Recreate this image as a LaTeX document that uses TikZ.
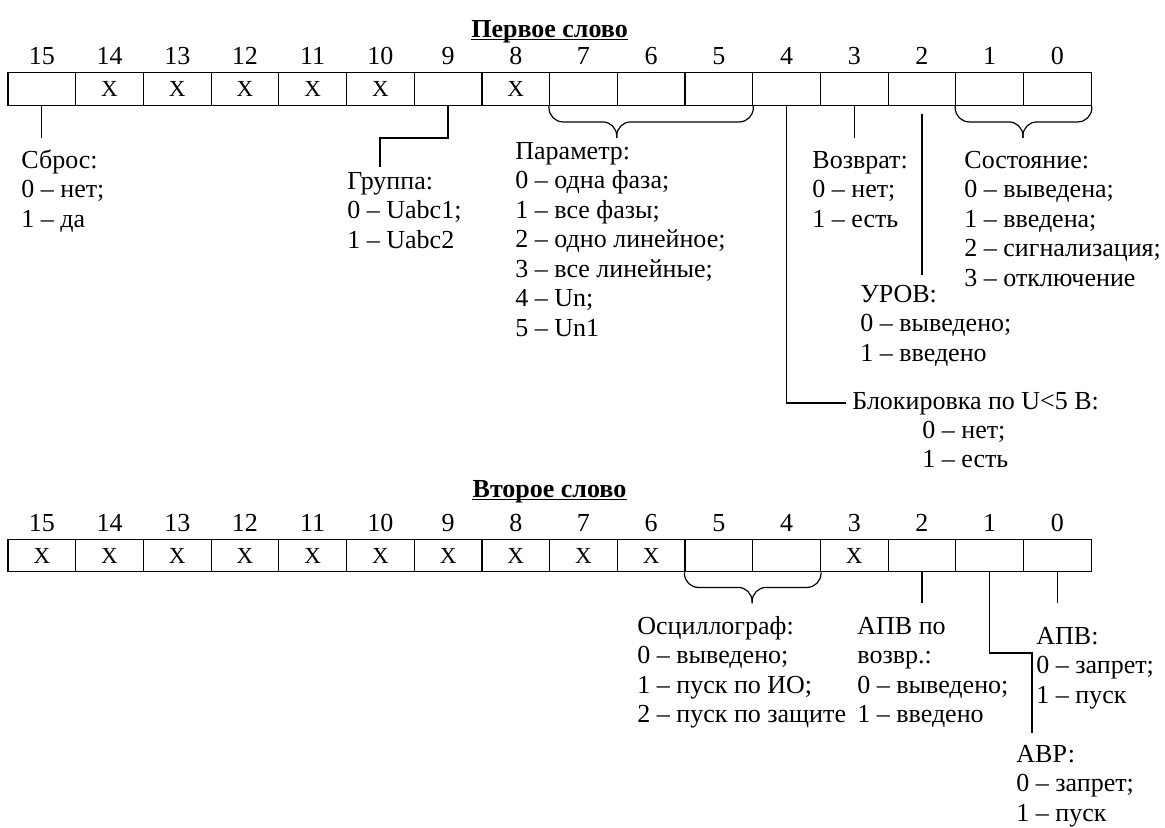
\documentclass[tikz,border=0pt]{standalone}
\usepackage{fontspec}
\setmainfont{Liberation Serif}
\usepackage{tikz}
\usetikzlibrary{positioning}

\tikzset{
  cell/.style={draw, line width=0.6pt, minimum width=33.85pt, minimum height=16.3pt, inner sep=0pt},
  bitno/.style={inner sep=0pt},
  xmark/.style={inner sep=0pt, font=\fontsize{11.5}{13}\selectfont},
  lbl/.style={anchor=base west, align=left, inner sep=0pt},
  wordtitle/.style={anchor=base, inner sep=0pt, font=\fontsize{13}{14.75}\selectfont\bfseries},
  conn/.style={line width=0.6pt},
  bracearm/.style={line width=0.6pt, rounded corners=7pt},
}

\begin{document}
\begin{tikzpicture}[x=0.5pt, y=-0.5pt, font=\fontsize{13}{14.75}\selectfont]
  \useasboundingbox (0,0) rectangle (1165,827);

  % Register cells with bit numbers
  \foreach \i in {0,...,15} {
    \node[cell] (t\i) at ({8+(15.5-\i)*67.7}, 89) {};
    \node[bitno, above=3.85pt of t\i, anchor=base] (tn\i) {\i};
    \node[cell] (b\i) at ({8+(15.5-\i)*67.7}, 555.5) {};
    \node[bitno, above=3.7pt of b\i, anchor=base] (bn\i) {\i};
  }

  % Unused bits
  \foreach \i in {14,13,12,11,10,8} \node[xmark] (tx\i) at (t\i) {X};
  \foreach \i in {15,14,13,12,11,10,9,8,7,6,3} \node[xmark] (bx\i) at (b\i) {X};

  % Word titles, underlined
  \node[wordtitle] (word1) at (549.5,37) {Первое слово};
  \node[wordtitle] (word2) at (549.5,497) {Второе слово};
  \draw[line width=0.7pt] ([yshift=-1.2pt]word1.base west) -- ([yshift=-1.2pt]word1.base east);
  \draw[line width=0.7pt] ([yshift=-1.2pt]word2.base west) -- ([yshift=-1.2pt]word2.base east);

  % First word: braces
  \draw[bracearm] (t7.south west) -- ([yshift=-8pt]t7.south west) -- ([yshift=-8pt]t6.south west) -- ([yshift=-16pt]t6.south west);
  \draw[bracearm] (t5.south east) -- ([yshift=-8pt]t5.south east) -- ([yshift=-8pt]t6.south west) -- ([yshift=-16pt]t6.south west);
  \draw[bracearm] (t1.south west) -- ([yshift=-8pt]t1.south west) -- ([yshift=-8pt]t0.south west) -- ([yshift=-16pt]t0.south west);
  \draw[bracearm] (t0.south east) -- ([yshift=-8pt]t0.south east) -- ([yshift=-8pt]t0.south west) -- ([yshift=-16pt]t0.south west);

  % First word: leaders
  \coordinate (e15) at ([yshift=-16pt]t15.south);
  \coordinate (g1) at ([yshift=-16pt]t9.south);
  \coordinate (g2) at (380,167);
  \coordinate (e3) at ([yshift=-16pt]t3.south);
  \coordinate (s2) at ([yshift=-4pt]t2.south);
  \coordinate (e2) at (t2.south |- 0,275);
  \coordinate (e4) at (846,403);
  \draw[conn] (t15.south) -- (e15);
  \draw[conn] (t9.south) -- (g1) -| (g2);
  \draw[conn] (t3.south) -- (e3);
  \draw[conn] (s2) -- (e2);
  \draw[conn] (t4.south) |- (e4);

  % First word: labels (placed by the baseline of the last line)
  \node[lbl] (sbros) at (21,227) {Сброс:\\0 – нет;\\1 – да};
  \node[lbl] (grp) at (347,248) {Группа:\\0 – Uabc1;\\1 – Uabc2};
  \node[lbl] (param) at (515,336) {Параметр:\\0 – одна фаза;\\1 – все фазы;\\2 – одно линейное;\\3 – все линейные;\\4 – Un;\\5 – Un1};
  \node[lbl] (vozv) at (812,227) {Возврат:\\0 – нет;\\1 – есть};
  \node[lbl] (sost) at (964,286) {Состояние:\\0 – выведена;\\1 – введена;\\2 – сигнализация;\\3 – отключение};
  \node[lbl] (urov) at (860,361) {УРОВ:\\0 – выведено;\\1 – введено};
  \node[lbl] (blk) at (852,409) {Блокировка по U<5 В:};
  \node[lbl] (blkval) at (922,467.5) {0 – нет;\\1 – есть};

  % Second word: brace
  \draw[bracearm] (b5.south west) -- ([yshift=-7.5pt]b5.south west) -- ([yshift=-7.5pt]b4.south west) -- ([yshift=-15.5pt]b4.south west);
  \draw[bracearm] (b4.south east) -- ([yshift=-7.5pt]b4.south east) -- ([yshift=-7.5pt]b4.south west) -- ([yshift=-15.5pt]b4.south west);

  % Second word: leaders
  \coordinate (f2) at ([yshift=-15.5pt]b2.south);
  \coordinate (f0) at ([yshift=-15.5pt]b0.south);
  \coordinate (k1) at (1032,653);
  \coordinate (f1) at (1032,733);
  \draw[conn] (b2.south) -- (f2);
  \draw[conn] (b0.south) -- (f0);
  \draw[conn] (b1.south) |- (k1) -- (f1);

  % Second word: labels
  \node[lbl] (osc) at (637,722.5) {Осциллограф:\\0 – выведено;\\1 – пуск по ИО;\\2 – пуск по защите};
  \node[lbl] (apvv) at (857,722.5) {АПВ по\\возвр.:\\0 – выведено;\\1 – введено};
  \node[lbl] (apv) at (1036,703) {АПВ:\\0 – запрет;\\1 – пуск};
  \node[lbl] (avr) at (1016,821) {АВР:\\0 – запрет;\\1 – пуск};
\end{tikzpicture}
\end{document}
